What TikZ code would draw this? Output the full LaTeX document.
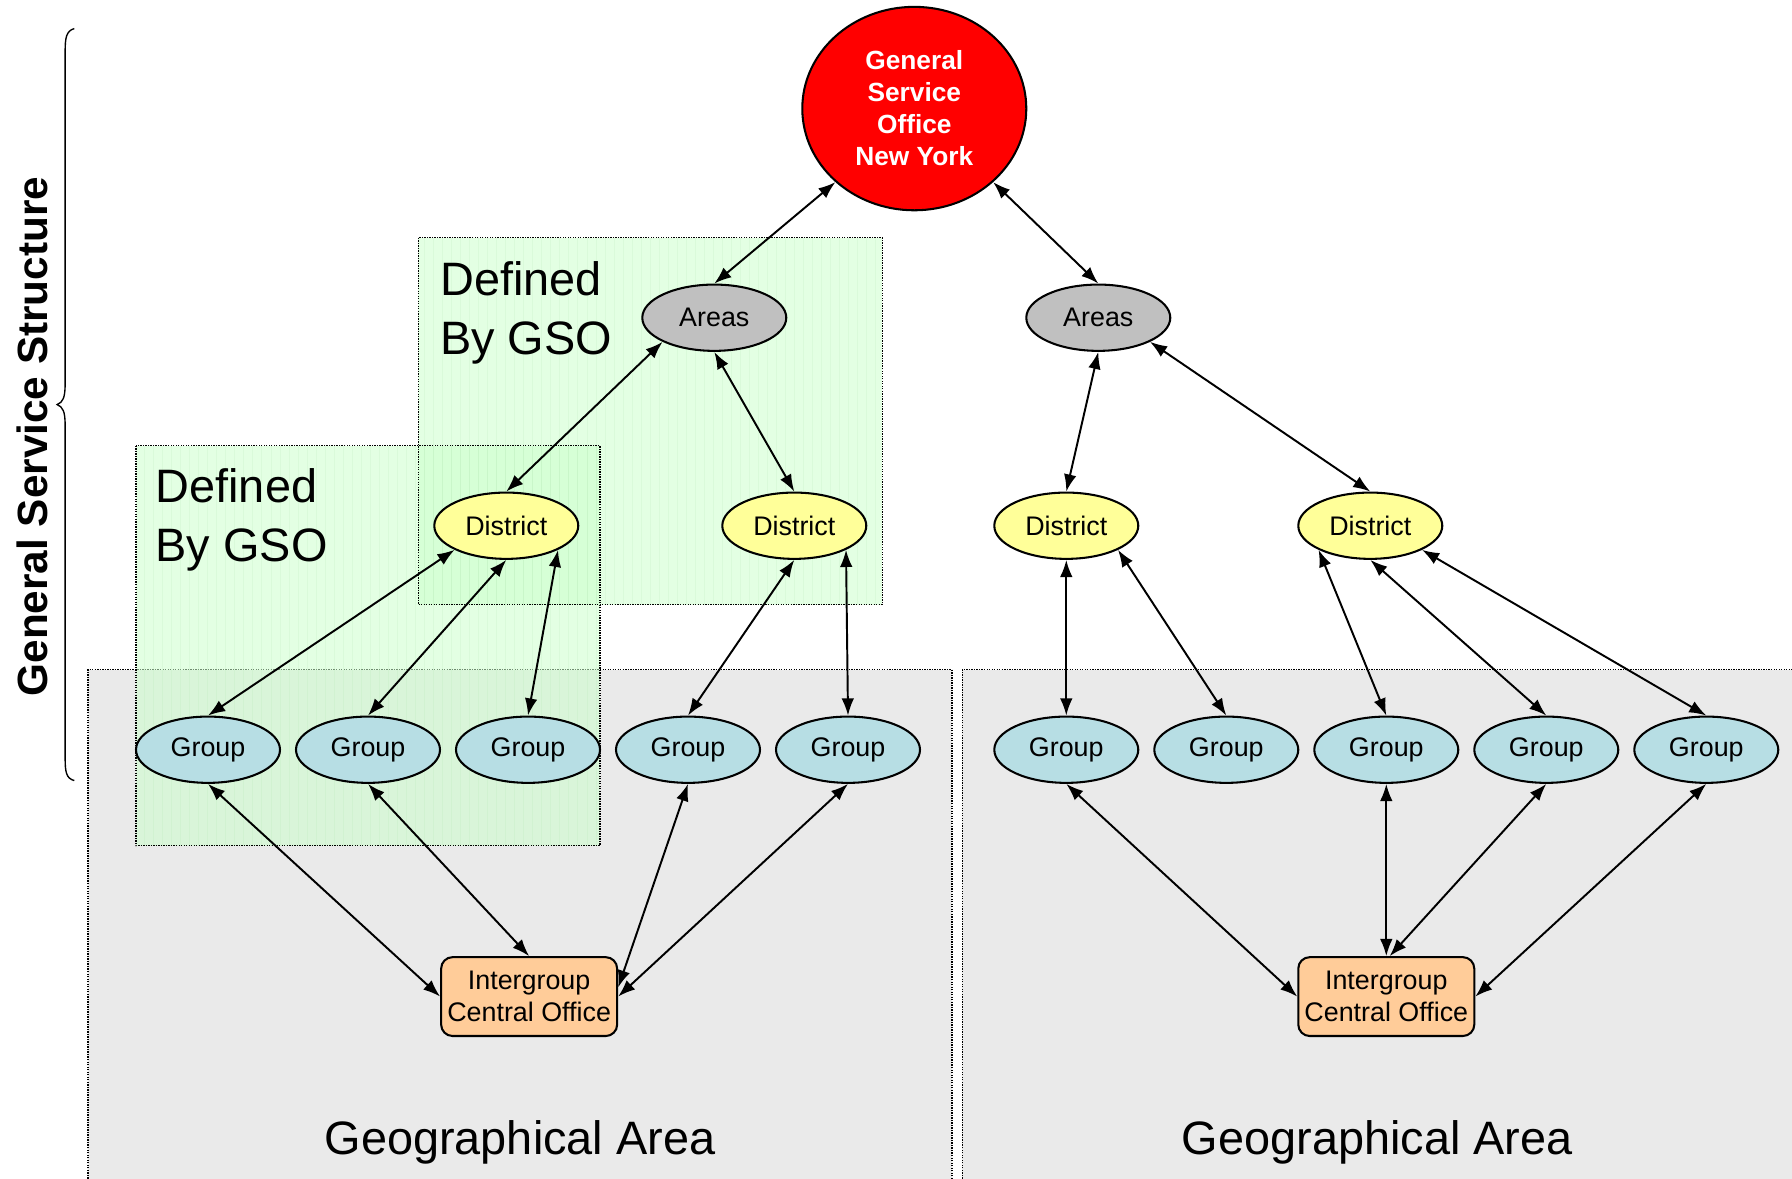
\documentclass[tikz,border=0pt]{standalone}
\usepackage{fontspec}
\setmainfont{Liberation Sans}
\usetikzlibrary{shapes.geometric,arrows.meta}
\definecolor{grayArea}{RGB}{234,234,234}
\definecolor{greenBox}{RGB}{204,255,204}
\definecolor{gridGreen}{RGB}{170,225,170}
\definecolor{groupBlue}{RGB}{183,222,228}
\definecolor{districtYellow}{RGB}{255,255,153}
\definecolor{areasGray}{RGB}{192,192,192}
\definecolor{icOrange}{RGB}{255,204,153}
\definecolor{gsoRed}{RGB}{255,0,0}
\tikzset{
  base/.style={draw=black, line width=1.8pt, inner sep=0pt, font=\fontsize{23.5}{28}\selectfont, align=center},
  oval/.style={base, ellipse, minimum width=126pt, minimum height=58pt},
  areanode/.style={oval, fill=areasGray},
  districtnode/.style={oval, fill=districtYellow},
  groupnode/.style={oval, fill=groupBlue},
  icnode/.style={base, rectangle, rounded corners=10pt, fill=icOrange, minimum width=154pt, minimum height=69pt},
  gsonode/.style={base, ellipse, fill=gsoRed, text=white, font=\bfseries\fontsize{23}{28}\selectfont, minimum width=196pt, minimum height=178pt},
  conn/.style={line width=1.7pt, {Latex[length=15pt,width=11pt]}-{Latex[length=15pt,width=11pt]}},
  regionborder/.style={line width=1.2pt, densely dotted},
  greenfill/.style={fill=greenBox, fill opacity=0.55},
  gridlines/.style={draw=gridGreen, line width=0.6pt, opacity=0.15},
  bigtext/.style={inner sep=0pt, font=\fontsize{41}{51}\selectfont, align=left},
  geotext/.style={inner sep=0pt, font=\fontsize{41}{49}\selectfont}
}
\begin{document}
\begin{tikzpicture}[x=1pt,y=-1pt]
\useasboundingbox (0,0) rectangle (1568,1031);
% geographical regions
\fill[grayArea] (77,586) rectangle (833,1040);
\fill[grayArea] (842,586) rectangle (1575,1040);
\draw[regionborder] (77,1040) -- (77,586) -- (833,586) -- (833,1040);
\draw[regionborder] (842,1040) -- (842,586) -- (1575,586);
% green boxes
\fill[greenfill] (366,208) rectangle (772,529);
\fill[greenfill] (119,390) rectangle (525,740);
\begin{scope}
  \clip (366,208) rectangle (772,529);
  \draw[gridlines, step=7.9] (366,208) grid (772,529);
\end{scope}
\begin{scope}
  \clip (119,390) rectangle (525,740);
  \draw[gridlines, step=7.9] (119,390) grid (525,740);
\end{scope}
\draw[regionborder] (366,208) rectangle (772,529);
\draw[regionborder] (119,390) rectangle (525,740);
% texts
\node[bigtext, anchor=north west] (def1) at (385,229) {Defined\\By GSO};
\node[bigtext, anchor=north west] (def2) at (136,410) {Defined\\By GSO};
\node[geotext] (geo1) at (455,1000) {Geographical Area};
\node[geotext] (geo2) at (1205,1000) {Geographical Area};
% brace and side label
\draw[line width=1.2pt] (65,25) .. controls (58,27) and (57,33) .. (57,45) -- (57,336)
  .. controls (57,348) and (55,352) .. (50,354) .. controls (55,356) and (57,360) .. (57,372)
  -- (57,663) .. controls (57,676) and (58,681) .. (65,683);
\node[rotate=90, inner sep=0pt, font=\bfseries\fontsize{37}{44}\selectfont] (gss) at (28,382) {General Service Structure};
% nodes
\node[gsonode] (gso) at (800,95) {General\\Service\\Office\\New York};
\node[areanode] (aL) at (625,278) {Areas};
\node[areanode] (aR) at (961,278) {Areas};
\node[districtnode] (d1) at (443,460) {District};
\node[districtnode] (d2) at (695,460) {District};
\node[districtnode] (d3) at (933,460) {District};
\node[districtnode] (d4) at (1199,460) {District};
\node[groupnode] (g1) at (182,656) {Group};
\node[groupnode] (g2) at (322,656) {Group};
\node[groupnode] (g3) at (462,656) {Group};
\node[groupnode] (g4) at (602,656) {Group};
\node[groupnode] (g5) at (742,656) {Group};
\node[groupnode] (g6) at (933,656) {Group};
\node[groupnode] (g7) at (1073,656) {Group};
\node[groupnode] (g8) at (1213,656) {Group};
\node[groupnode] (g9) at (1353,656) {Group};
\node[groupnode] (g10) at (1493,656) {Group};
\node[icnode] (ic1) at (463,872) {Intergroup\\Central Office};
\node[icnode] (ic2) at (1213,872) {Intergroup\\Central Office};
% connectors
\draw[conn] (gso.223) -- (aL.north);
\draw[conn] (gso.317) -- (aR.north);
\draw[conn] (aL.205) -- (d1.north);
\draw[conn] (aL.south) -- (d2.north);
\draw[conn] (aR.south) -- (d3.north);
\draw[conn] (aR.335) -- (d4.north);
\draw[conn] (d1.205) -- (g1.north);
\draw[conn] (d1.south) -- (g2.north);
\draw[conn] (d1.335) -- (g3.north);
\draw[conn] (d2.south) -- (g4.north);
\draw[conn] (d2.335) -- (g5.north);
\draw[conn] (d3.south) -- (g6.north);
\draw[conn] (d3.335) -- (g7.north);
\draw[conn] (d4.205) -- (g8.north);
\draw[conn] (d4.south) -- (g9.north);
\draw[conn] (d4.335) -- (g10.north);
\draw[conn] (g1.south) -- (ic1.west);
\draw[conn] (g2.south) -- (ic1.north);
\draw[conn] (g4.south) -- ([yshift=8pt]ic1.east);
\draw[conn] (g5.south) -- (ic1.east);
\draw[conn] (g6.south) -- (ic2.west);
\draw[conn] (g8.south) -- (ic2.north);
\draw[conn] (g9.south) -- ([xshift=3pt]ic2.north);
\draw[conn] (g10.south) -- (ic2.east);
\end{tikzpicture}
\end{document}
